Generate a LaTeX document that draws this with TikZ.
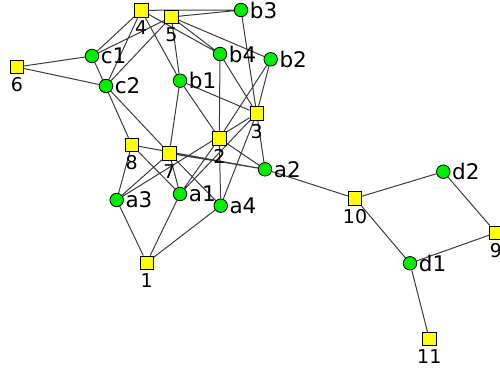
\documentclass[tikz,border=0pt]{standalone}
\usepackage{fontspec}
\setmainfont{DejaVu Sans}
\usetikzlibrary{backgrounds}
\definecolor{nyellow}{RGB}{255,255,0}
\definecolor{ngreen}{RGB}{0,238,0}
\definecolor{edgegray}{RGB}{60,60,60}
\begin{document}
\begin{tikzpicture}[x=1pt,y=-1pt,
  sq/.style={draw=black, fill=nyellow, minimum size=13.5pt, inner sep=0pt, line width=0.8pt,
    label={[font=\fontsize{19}{19}\selectfont, inner sep=0pt, yshift=-3.5pt]below:#1}},
  ci/.style={circle, draw=black, fill=ngreen, minimum size=13.5pt, inner sep=0pt, line width=0.8pt,
    label={[font=\fontsize{21.5}{21.5}\selectfont, inner sep=0pt, xshift=1.5pt]right:#1}},
  edge/.style={draw=edgegray, line width=1pt}]
\useasboundingbox (0,0) rectangle (500,374);
% square nodes
\node[sq=6]  (n6)  at (17,67) {};
\node[sq=4]  (n4)  at (141.2,10.3) {};
\node[sq=5]  (n5)  at (171.3,17) {};
\node[sq=3]  (n3)  at (256.7,113.3) {};
\node[sq=2]  (n2)  at (219.3,138.3) {};
\node[sq=7]  (n7)  at (169.3,153.3) {};
\node[sq=8]  (n8)  at (131.7,145) {};
\node[sq=1]  (n1)  at (146.7,262.7) {};
\node[sq=10] (n10) at (355,198.3) {};
\node[sq=9]  (n9)  at (496,232.7) {};
\node[sq=11] (n11) at (429.3,339) {};
% circle nodes
\node[ci=c1] (c1) at (92,56) {};
\node[ci=c2] (c2) at (106,86) {};
\node[ci=b3] (b3) at (241,10) {};
\node[ci=b4] (b4) at (220,54) {};
\node[ci=b2] (b2) at (270.7,59.3) {};
\node[ci=b1] (b1) at (180,80.7) {};
\node[ci=a2] (a2) at (265,169.3) {};
\node[ci=a1] (a1) at (180,194) {};
\node[ci=a4] (a4) at (220.7,205.7) {};
\node[ci=a3] (a3) at (116.7,200) {};
\node[ci=d2] (d2) at (443.3,171.7) {};
\node[ci=d1] (d1) at (410,263.3) {};
\begin{scope}[on background layer]
\path[edge]
  (n6) -- (c1)  (n6) -- (c2)
  (n4) -- (c1)  (n4) -- (c2)  (n4) -- (b3)  (n4) -- (b1)  (n4) -- (b4)
  (n5) -- (c1)  (n5) -- (c2)  (n5) -- (b3)  (n5) -- (b1)  (n5) -- (b4)  (n5) -- (b2)
  (n3) -- (b3)  (n3) -- (b4)  (n3) -- (b2)  (n3) -- (b1)  (n3) -- (a2)  (n3) -- (a4)  (n3) -- (a1)  (n3) -- (a3)
  (n2) -- (b4)  (n2) -- (b2)  (n2) -- (b1)  (n2) -- (a4)  (n2) -- (a1)  (n2) -- (a2)
  (n7) -- (b1)  (n7) -- (c2)  (n7) -- (a2)  (n7) -- (a1)  (n7) -- (a4)  (n7) -- (a3)
  (n8) -- (c1)  (n8) -- (a2)  (n8) -- (a3)  (n8) -- (a1)
  (n1) -- (a3)  (n1) -- (a1)  (n1) -- (a4)
  (n10) -- (a2) (n10) -- (d2) (n10) -- (d1)
  (n9) -- (d2)  (n9) -- (d1)
  (n11) -- (d1);
\end{scope}
\end{tikzpicture}
\end{document}
